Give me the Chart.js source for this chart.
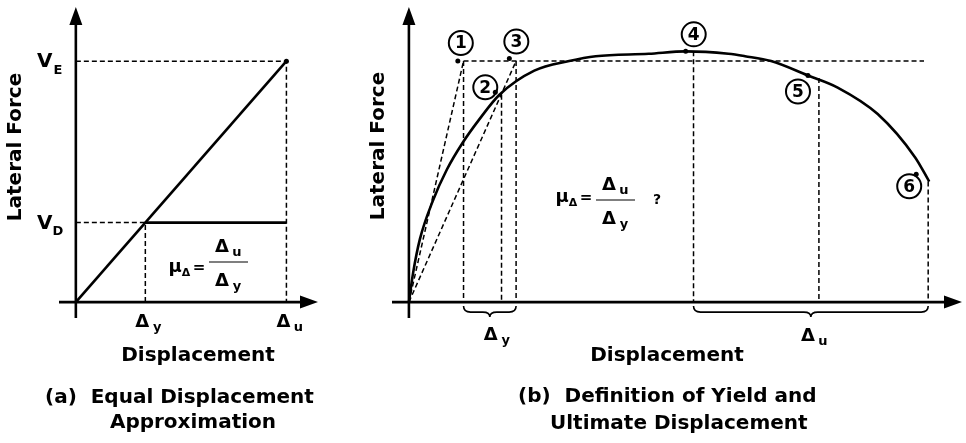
<!DOCTYPE html>
<html lang="en">
<head>
<meta charset="UTF-8">
<title>Yield and ultimate displacement</title>
<script src="https://cdn.jsdelivr.net/npm/chart.js@4"></script>
<style>
  body { margin: 0; background: #fff; }
  #wrap { position: relative; width: 966px; height: 443px; }
  canvas { position: absolute; top: 0; }
</style>
</head>
<body>
<div id="wrap">
  <canvas id="chartA" width="330" height="443" style="left:0"></canvas>
  <canvas id="chartB" width="636" height="443" style="left:330px"></canvas>
</div>
<script>
// ---- (a) equal displacement approximation ----
const aDispTicks = [3.3, 10];          // Δy, Δu
const aDispSubs = ['y', 'u'];
const aForceTicks = [3.3, 10];         // V_D, V_E
const aForceSubs = ['D', 'E'];
const aElasticX = [0, 10];
const aElasticY = [0, 10];
const aPlasticX = [3.3, 10];
const aPlasticY = [3.3, 3.3];

// ---- (b) definition of yield and ultimate displacement ----
const bCurveX = [0, 0.08, 0.21, 0.46, 0.73, 1.03, 1.36, 1.74, 2.41, 3.08, 3.59, 4.61, 5.32, 6.14, 6.46, 6.96, 7.67, 8.24, 9.01, 9.73, 10.0];
const bCurveY = [0, 0.12, 0.26, 0.42, 0.55, 0.66, 0.76, 0.86, 0.96, 1.0, 1.02, 1.03, 1.04, 1.03, 1.02, 1.0, 0.94, 0.89, 0.78, 0.60, 0.50];
const bMarkX = [0.94, 1.66, 1.93, 5.32, 7.67, 9.75];
const bMarkY = [1.0, 0.87, 1.01, 1.04, 0.94, 0.53];
const bMarkLabels = ['1', '2', '3', '4', '5', '6'];
const bStrength = 1.0;                 // nominal strength (dashed)
const bYieldX = [1.05, 1.78, 2.06];    // yield displacement candidates
const bYieldTop = [1.0, 0.86, 1.0];
const bUltX = [5.47, 7.88, 9.98];      // ultimate displacement candidates
const bUltTop = [1.04, 0.93, 0.50];
const bStrengthEnd = 9.9;

const FONT = '"DejaVu Sans", "Liberation Sans", Arial, sans-serif';

function pts(xs, ys) { return xs.map((x, i) => ({ x: x, y: ys[i] })); }

function dashed(data) {
  return { data: data, showLine: true, borderColor: '#000', borderWidth: 1.5,
           borderDash: [5, 3], pointRadius: 0, order: 3 };
}

const axesPlugin = {
  id: 'arrowAxes',
  beforeDatasetsDraw(chart) {
    const { ctx, chartArea: a, scales: { x, y } } = chart;
    const x0 = x.getPixelForValue(0), y0 = y.getPixelForValue(0);
    ctx.save();
    ctx.strokeStyle = '#000';
    ctx.fillStyle = '#000';
    ctx.lineWidth = 2.6;
    ctx.beginPath();
    ctx.moveTo(a.left, y0); ctx.lineTo(a.right - 12, y0);
    ctx.moveTo(x0, a.bottom); ctx.lineTo(x0, a.top + 14);
    ctx.stroke();
    ctx.beginPath();
    ctx.moveTo(a.right, y0); ctx.lineTo(a.right - 18, y0 - 6.5); ctx.lineTo(a.right - 18, y0 + 6.5); ctx.closePath();
    ctx.moveTo(x0, a.top); ctx.lineTo(x0 - 6.5, a.top + 18); ctx.lineTo(x0 + 6.5, a.top + 18); ctx.closePath();
    ctx.fill();
    ctx.restore();
  }
};

function txt(ctx, s, x, y, size, align) {
  ctx.font = 'bold ' + size + 'px ' + FONT;
  ctx.textAlign = align || 'center';
  ctx.textBaseline = 'middle';
  ctx.fillText(s, x, y);
}

function sym(ctx, main, sub, x, y) {
  txt(ctx, main, x, y, 18);
  txt(ctx, sub, x + 15, y + 6, 13);
}

function ratio(ctx, cx, cy, lineDy, question) {
  txt(ctx, 'μ', cx, cy, 18);
  txt(ctx, 'Δ', cx + 11, cy + 6, 11);
  txt(ctx, '=', cx + 24, cy + 1, 15);
  const fx = cx + 53, fy = cy + lineDy;
  ctx.save();
  ctx.lineWidth = 1.2;
  ctx.beginPath(); ctx.moveTo(fx - 19, fy); ctx.lineTo(fx + 20, fy); ctx.stroke();
  ctx.restore();
  sym(ctx, 'Δ', 'u', fx - 6, fy - 15);
  sym(ctx, 'Δ', 'y', fx - 6, fy + 19);
  if (question) txt(ctx, '?', fx + 42, fy, 14);
}

function axisTitles(ctx, lx, ly, dx, dy) {
  ctx.save();
  ctx.translate(lx, ly);
  ctx.rotate(-Math.PI / 2);
  txt(ctx, 'Lateral Force', 0, 0, 20);
  ctx.restore();
  txt(ctx, 'Displacement', dx, dy, 20);
}

function brace(ctx, x1, x2, y) {
  const m = (x1 + x2) / 2, r = 7, h = 6;
  ctx.save();
  ctx.lineWidth = 1.6;
  ctx.beginPath();
  ctx.moveTo(x1, y);
  ctx.quadraticCurveTo(x1, y + h, x1 + r, y + h);
  ctx.lineTo(m - r, y + h);
  ctx.quadraticCurveTo(m, y + h, m, y + h + 5);
  ctx.quadraticCurveTo(m, y + h, m + r, y + h);
  ctx.lineTo(x2 - r, y + h);
  ctx.quadraticCurveTo(x2, y + h, x2, y);
  ctx.stroke();
  ctx.restore();
}

function circled(ctx, s, x, y) {
  ctx.save();
  ctx.lineWidth = 2;
  ctx.beginPath(); ctx.arc(x, y, 12, 0, Math.PI * 2); ctx.stroke();
  txt(ctx, s, x, y + 1, 17);
  ctx.restore();
}

const baseOptions = (xMin, xMax, yMin, yMax, pad) => ({
  responsive: false,
  animation: false,
  layout: { padding: pad },
  plugins: { legend: { display: false }, tooltip: { enabled: false } },
  scales: {
    x: { type: 'linear', display: false, min: xMin, max: xMax },
    y: { type: 'linear', display: false, min: yMin, max: yMax }
  }
});

// ---------------- chart (a) ----------------
const textA = {
  id: 'textA',
  afterDraw(chart) {
    const { ctx, scales: { x, y } } = chart;
    const x0 = x.getPixelForValue(0), y0 = y.getPixelForValue(0);
    ctx.save();
    ctx.fillStyle = '#000';
    ctx.strokeStyle = '#000';
    aForceTicks.forEach((v, i) => {
      const py = y.getPixelForValue(v);
      txt(ctx, 'V', x0 - 31, py + 1, 20);
      txt(ctx, aForceSubs[i], x0 - 18, py + 9, 13);
    });
    aDispTicks.forEach((v, i) => {
      const px = x.getPixelForValue(v);
      sym(ctx, 'Δ', aDispSubs[i], px - 3, y0 + 20);
    });
    ratio(ctx, 175, 267, -5, false);
    axisTitles(ctx, 16, 147, 198, 356);
    txt(ctx, '(a)  Equal Displacement', 45, 398, 20, 'left');
    txt(ctx, 'Approximation', 193, 423, 20);
    ctx.restore();
  }
};

new Chart(document.getElementById('chartA'), {
  type: 'scatter',
  data: {
    datasets: [
      { data: pts([aElasticX[1]], [aElasticY[1]]), pointRadius: 2.5, pointBackgroundColor: '#000', pointBorderWidth: 0, order: 0 },
      { data: pts(aElasticX, aElasticY), showLine: true, borderColor: '#000', borderWidth: 2.6, pointRadius: 0, order: 1 },
      { data: pts(aPlasticX, aPlasticY), showLine: true, borderColor: '#000', borderWidth: 2.6, pointRadius: 0, order: 1 },
      dashed(pts([0, aDispTicks[1], aDispTicks[1]], [aForceTicks[1], aForceTicks[1], 0])),
      dashed(pts([0, aDispTicks[0], aDispTicks[0]], [aForceTicks[0], aForceTicks[0], 0]))
    ]
  },
  options: baseOptions(-0.8, 11.5, -0.66, 12.25, { left: 59, right: 12, top: 7, bottom: 125 }),
  plugins: [axesPlugin, textA]
});

// ---------------- chart (b) ----------------
const labelOffsets = [[3, -18], [-10, -5], [7, -17], [8, -17], [-10, 16], [-7, 12]];

const textB = {
  id: 'textB',
  afterDraw(chart) {
    const { ctx, scales: { x, y } } = chart;
    const y0 = y.getPixelForValue(0);
    ctx.save();
    ctx.fillStyle = '#000';
    ctx.strokeStyle = '#000';
    bMarkLabels.forEach((s, i) => {
      const px = x.getPixelForValue(bMarkX[i]), py = y.getPixelForValue(bMarkY[i]);
      circled(ctx, s, px + labelOffsets[i][0], py + labelOffsets[i][1]);
    });
    const yA = x.getPixelForValue(bYieldX[0]), yB = x.getPixelForValue(bYieldX[2]);
    const uA = x.getPixelForValue(bUltX[0]), uB = x.getPixelForValue(bUltX[2]);
    brace(ctx, yA, yB, y0 + 4);
    brace(ctx, uA, uB, y0 + 4);
    sym(ctx, 'Δ', 'y', (yA + yB) / 2 + 1, y0 + 33);
    sym(ctx, 'Δ', 'u', (uA + uB) / 2 - 3, y0 + 34);
    ratio(ctx, 232, 197, 3, true);
    axisTitles(ctx, 49, 146, 337, 356);
    txt(ctx, '(b)  Definition of Yield and', 188, 397, 20, 'left');
    txt(ctx, 'Ultimate Displacement', 220, 424, 20, 'left');
    ctx.restore();
  }
};

const bDatasets = [
  { data: pts(bMarkX, bMarkY), pointRadius: 2.5, pointBackgroundColor: '#000', pointBorderWidth: 0, order: 0 },
  { data: pts(bCurveX, bCurveY), showLine: true, borderColor: '#000', borderWidth: 2.6,
    cubicInterpolationMode: 'monotone', pointRadius: 0, order: 1 },
  dashed(pts([bYieldX[0], bStrengthEnd], [bStrength, bStrength])),
  dashed(pts([0, bYieldX[0]], [0, bStrength])),
  dashed(pts([0, bYieldX[2]], [0, bStrength]))
];
bYieldX.forEach((v, i) => bDatasets.push(dashed(pts([v, v], [bYieldTop[i], 0]))));
bUltX.forEach((v, i) => bDatasets.push(dashed(pts([v, v], [bUltTop[i], 0]))));

new Chart(document.getElementById('chartB'), {
  type: 'scatter',
  data: { datasets: bDatasets },
  options: baseOptions(-0.325, 10.63, -0.066, 1.224, { left: 62, right: 1, top: 7, bottom: 125 }),
  plugins: [axesPlugin, textB]
});
</script>
</body>
</html>
